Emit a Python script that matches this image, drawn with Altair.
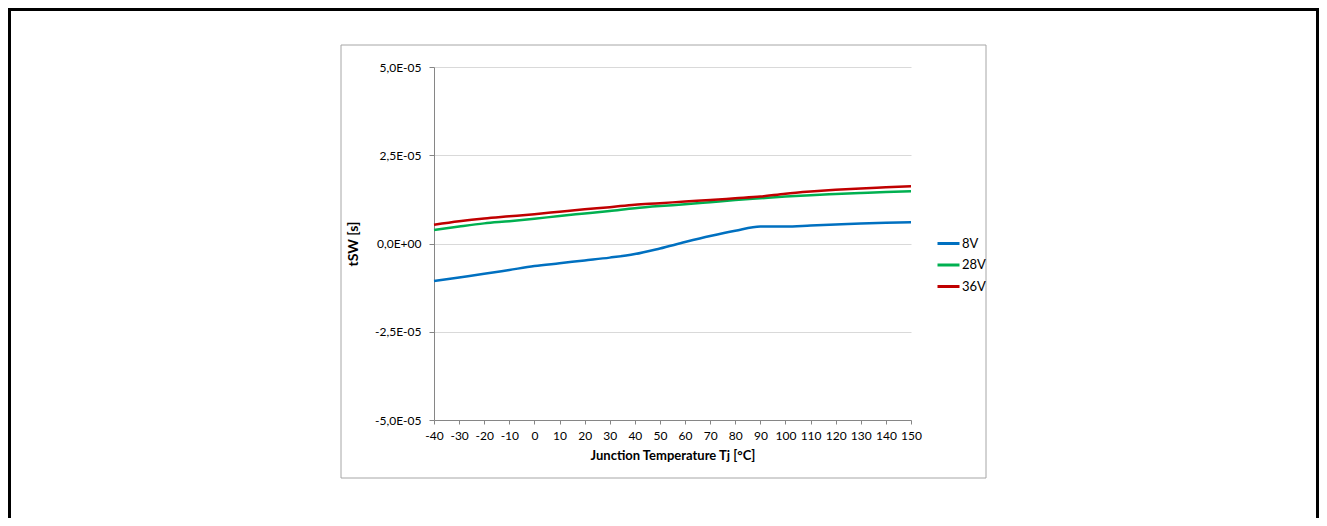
import json
import altair as alt
import pandas as pd

# Data (values in seconds)
temps = [-40, -30, -20, -10, 0, 10, 20, 30, 40, 50, 60, 70, 80, 90, 100, 110, 120, 130, 140, 150]
v8 = [-10.6, -9.6, -8.6, -7.5, -6.4, -5.6, -4.8, -4.0, -3.0, -1.4, 0.4, 2.1, 3.6, 4.8, 4.8, 5.1, 5.4, 5.7, 5.9, 6.0]
v28 = [3.8, 4.8, 5.7, 6.3, 7.0, 7.8, 8.5, 9.2, 10.0, 10.6, 11.1, 11.7, 12.3, 12.8, 13.3, 13.7, 14.0, 14.3, 14.6, 14.8]
v36 = [5.3, 6.3, 7.1, 7.7, 8.3, 9.0, 9.7, 10.3, 11.0, 11.4, 11.9, 12.3, 12.8, 13.3, 14.1, 14.7, 15.2, 15.6, 15.9, 16.2]
series_names = ["8V", "28V", "36V"]
series_colors = ["#0070C0", "#00B050", "#C00000"]
y_tick_values = [-5e-5, -2.5e-5, 0.0, 2.5e-5, 5e-5]
y_tick_labels = ["-5,0E-05", "-2,5E-05", "0,0E+00", "2,5E-05", "5,0E-05"]
x_tick_values = list(range(-40, 151, 10))

rows = []
for name, vals in zip(series_names, [v8, v28, v36]):
    for t, v in zip(temps, vals):
        rows.append({"T": t, "tSW": v * 1e-6, "Series": name})
df = pd.DataFrame(rows)

FONT = "Lato"
label_expr = json.dumps(y_tick_labels) + "[round(datum.value/2.5e-5)+2]"

lines = alt.Chart(df).mark_line(strokeWidth=2.5, interpolate="monotone").encode(
    x=alt.X("T:Q",
            scale=alt.Scale(domain=[-40, 150], nice=False, zero=False),
            axis=alt.Axis(values=x_tick_values, title="Junction Temperature Tj [°C]",
                          labelExpr="toString(datum.value)",
                          grid=False, labelOverlap=False, labelFlush=False, tickSize=4,
                          labelPadding=6, titlePadding=8, titleFontSize=13)),
    y=alt.Y("tSW:Q",
            scale=alt.Scale(domain=[-5e-5, 5e-5], nice=False, zero=False),
            axis=alt.Axis(values=y_tick_values, labelExpr=label_expr, title="tSW [s]",
                          grid=True, tickSize=5, labelPadding=8, titlePadding=14,
                          titleFontSize=14)),
    color=alt.Color("Series:N",
                    scale=alt.Scale(domain=series_names, range=series_colors),
                    sort=series_names,
                    legend=alt.Legend(title=None, orient="none", legendX=502, legendY=164,
                                      symbolType="stroke", symbolSize=484,
                                      symbolStrokeWidth=3, labelOffset=1,
                                      rowPadding=1.5, padding=0, labelFontSize=13,
                                      labelFont=FONT, labelColor="#000000")),
)

one = alt.Data(values=[{}])

inner_box = alt.Chart(one).mark_rect(fillOpacity=0, stroke="#A6A6A6", strokeWidth=1).encode(
    x=alt.value(-93), x2=alt.value(552), y=alt.value(-22), y2=alt.value(411)
)

outer_frame = alt.Chart(one).mark_rect(fillOpacity=0, stroke="#000000", strokeWidth=3).encode(
    x=alt.value(-424.5), x2=alt.value(883.5), y=alt.value(-57.5), y2=alt.value(470)
)

chart = alt.layer(outer_frame, inner_box, lines).properties(
    width=477, height=353,
    autosize=alt.AutoSizeParams(type="none"),
    padding={"left": 426, "top": 59, "right": 408, "bottom": 98},
    background="white",
).configure_view(stroke=None).configure_axis(
    labelFont=FONT, titleFont=FONT, labelFontSize=12, titleFontSize=12,
    labelColor="#000000", titleColor="#000000", titleFontWeight="bold",
    domainColor="#868686", tickColor="#868686", gridColor="#D9D9D9",
    domainWidth=1, gridWidth=1,
)

chart.save("out.html", embed_options={"renderer": "svg", "actions": False})
